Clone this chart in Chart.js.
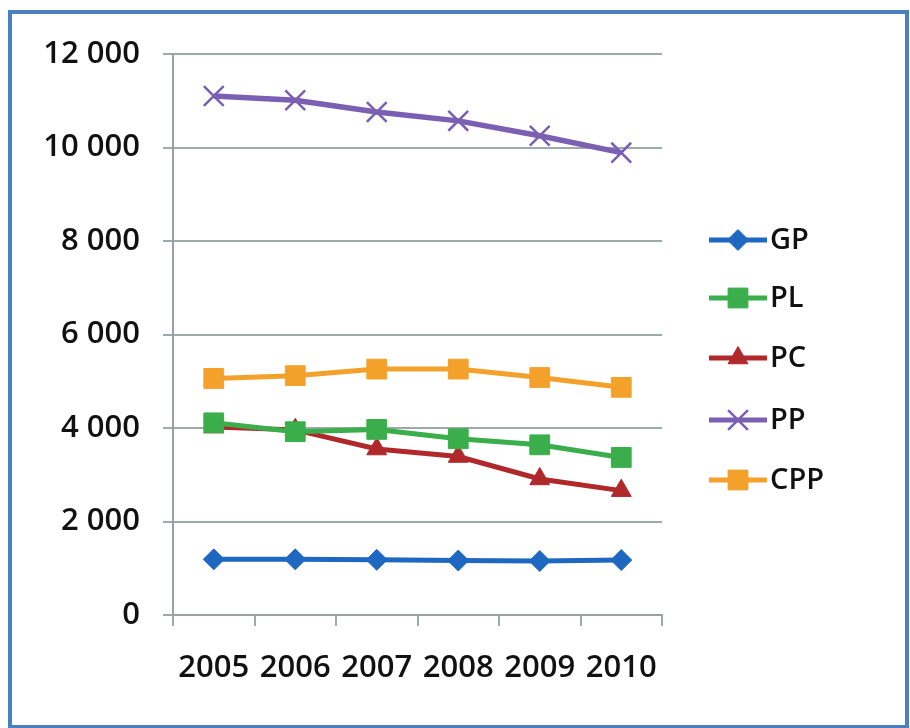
<!DOCTYPE html>
<html>
<head>
<meta charset="utf-8">
<script src="https://cdn.jsdelivr.net/npm/chart.js@4/dist/chart.umd.min.js"></script>
<style>
  html, body { margin: 0; padding: 0; background: #fff; }
  #wrap { position: relative; width: 910px; height: 728px; }
  #frame { position: absolute; left: 8px; top: 10px; width: 893px; height: 711px; border: 4px solid #4a7fc0; }
  canvas { position: absolute; left: 0; top: 0; }
</style>
</head>
<body>
<div id="wrap">
  <canvas id="grafico" width="910" height="728"></canvas>
  <div id="frame"></div>
</div>
<script>
// dados
const anos = ['2005', '2006', '2007', '2008', '2009', '2010'];
const gp  = [1190, 1190, 1180, 1165, 1155, 1175];
const pl  = [4110, 3920, 3970, 3770, 3640, 3370];
const pc  = [4020, 3960, 3550, 3390, 2910, 2660];
const pp  = [11100, 11010, 10760, 10570, 10250, 9890];
const cpp = [5060, 5120, 5260, 5260, 5080, 4870];

const FONTE = '"Open Sans", "Liberation Sans", sans-serif';

// series: nome, valores, cor, marcador
const series = [
  { nome: 'GP',  valores: gp,  cor: '#1f68c1', marcador: 'rectRot',  raio: 10.5 },
  { nome: 'PL',  valores: pl,  cor: '#3aae4a', marcador: 'rect',     raio: 14 },
  { nome: 'PC',  valores: pc,  cor: '#b1282b', marcador: 'triangle', raio: 11.5 },
  { nome: 'PP',  valores: pp,  cor: '#7a5fb2', marcador: 'crossRot', raio: 14 },
  { nome: 'CPP', valores: cpp, cor: '#f4a12b', marcador: 'rect',     raio: 14 }
];

const formatarMilhar = v => String(v).replace(/\B(?=(\d{3})+(?!\d))/g, ' ');

// legenda desenhada à mão: linha + marcador + texto
const legendaLateral = {
  id: 'legendaLateral',
  afterDraw(chart) {
    const ctx = chart.ctx;
    const ys = [240, 298, 358, 420, 480];
    ctx.save();
    series.forEach((s, i) => {
      const y = ys[i];
      ctx.strokeStyle = s.cor;
      ctx.lineWidth = 5;
      ctx.beginPath();
      ctx.moveTo(709, y);
      ctx.lineTo(767, y);
      ctx.stroke();
      ctx.fillStyle = s.cor;
      ctx.lineWidth = s.marcador === 'crossRot' ? 2.5 : 1;
      Chart.helpers.drawPoint(ctx, { pointStyle: s.marcador, radius: s.raio, rotation: 0, borderWidth: ctx.lineWidth }, 738, y);
      ctx.fillStyle = '#111';
      ctx.font = '600 29px ' + FONTE;
      ctx.textBaseline = 'middle';
      ctx.textAlign = 'left';
      ctx.fillText(s.nome, 770, y + 1);
    });
    ctx.restore();
  }
};

const ctx = document.getElementById('grafico').getContext('2d');
new Chart(ctx, {
  type: 'line',
  data: {
    labels: anos,
    datasets: series.map(s => ({
      label: s.nome,
      data: s.valores,
      borderColor: s.cor,
      backgroundColor: s.cor,
      borderWidth: s.nome === 'PP' ? 5.5 : 5,
      pointStyle: s.marcador,
      pointRadius: s.raio,
      pointBorderWidth: s.marcador === 'crossRot' ? 2.5 : 1,
      pointBackgroundColor: s.cor,
      pointBorderColor: s.cor,
      tension: 0,
      fill: false
    }))
  },
  options: {
    responsive: false,
    animation: false,
    devicePixelRatio: 1,
    layout: { padding: { left: 0, right: 248, top: 54, bottom: 0 } },
    plugins: {
      legend: { display: false },
      tooltip: { enabled: false }
    },
    scales: {
      x: {
        offset: true,
        afterFit: s => { s.height = 113; },
        grid: { display: true, drawOnChartArea: false, drawTicks: true, tickLength: 11, offset: true, color: '#a0a9a9', lineWidth: 2 },
        border: { display: true, color: '#98a2a2', width: 2 },
        ticks: { color: '#111', padding: 24, font: { family: FONTE, size: 31, weight: '600' } }
      },
      y: {
        min: 0,
        max: 12000,
        afterFit: s => { s.width = 173; },
        grid: { color: '#a0a9a9', lineWidth: 2, drawTicks: true, tickLength: 10 },
        border: { display: true, color: '#98a2a2', width: 2 },
        ticks: {
          stepSize: 2000,
          color: '#111',
          padding: 23,
          font: { family: FONTE, size: 31, weight: '600' },
          callback: v => formatarMilhar(v)
        }
      }
    }
  },
  plugins: [legendaLateral]
});
</script>
</body>
</html>
